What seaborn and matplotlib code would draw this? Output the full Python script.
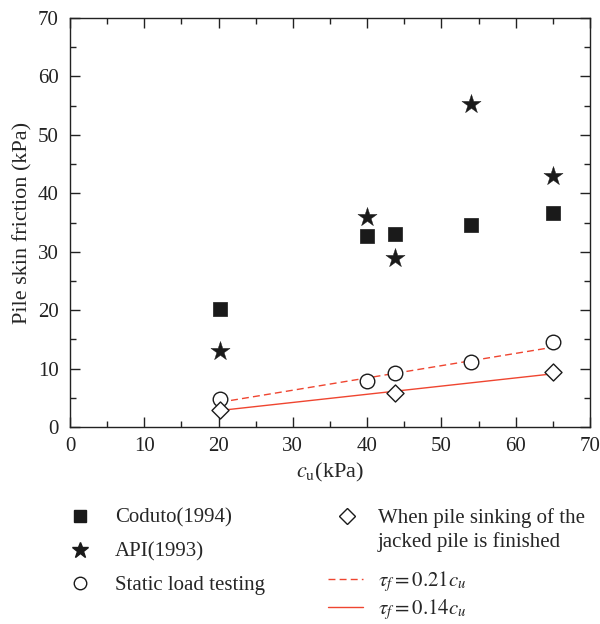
import matplotlib
matplotlib.use("Agg")
import matplotlib.pyplot as plt
import seaborn as sns
from matplotlib.lines import Line2D
from matplotlib.ticker import MultipleLocator

sns.set_style("ticks")
plt.rcParams['font.family'] = ['Liberation Serif', 'DejaVu Serif']
plt.rcParams['mathtext.fontset'] = 'stix'

cu = [20.2, 40.0, 43.8, 54.0, 65.0]
coduto = [20.2, 32.7, 33.0, 34.5, 36.7]
api = [13.0, 36.0, 29.0, 55.2, 43.0]
static = [4.8, 7.8, 9.2, 11.1, 14.6]
cu_jacked = [20.2, 43.8, 65.0]
jacked = [2.9, 5.8, 9.4]
fit_x = [20.2, 65.0]
fit_021 = [4.24, 13.65]
fit_014 = [2.83, 9.10]

black = '#1a1a1a'
red = '#ef4530'
W, H = 600, 624
FS = 15

fig = plt.figure(figsize=(6.0, 6.24), dpi=100)
ax = fig.add_axes([70/W, 1-427/H, 520/W, 409/H])

sns.lineplot(x=fit_x, y=fit_021, ax=ax, color=red, lw=1.0, linestyle=(0, (5, 3)))
sns.lineplot(x=fit_x, y=fit_014, ax=ax, color=red, lw=1.0)
sns.scatterplot(x=cu, y=coduto, ax=ax, marker='s', s=95, color=black, edgecolor=black, linewidth=0.5, zorder=3)
sns.scatterplot(x=cu, y=api, ax=ax, marker='*', s=210, color=black, edgecolor=black, linewidth=0.3, zorder=3)
sns.scatterplot(x=cu, y=static, ax=ax, marker='o', s=110, facecolor='white', edgecolor=black, linewidth=1.0, zorder=3)
sns.scatterplot(x=cu_jacked, y=jacked, ax=ax, marker='D', s=75, facecolor='white', edgecolor=black, linewidth=1.0, zorder=3)

ax.set_xlim(0, 70)
ax.set_ylim(0, 70)
ax.xaxis.set_major_locator(MultipleLocator(10))
ax.yaxis.set_major_locator(MultipleLocator(10))
ax.xaxis.set_minor_locator(MultipleLocator(5))
ax.yaxis.set_minor_locator(MultipleLocator(5))
ax.tick_params(which='both', direction='in', top=True, right=True, labelsize=FS, colors='#222222')
ax.tick_params(axis='x', which='both', pad=7)
ax.tick_params(axis='y', which='both', pad=8)
ax.tick_params(which='major', length=7, width=1)
ax.tick_params(which='minor', length=4, width=1)
for sp in ax.spines.values():
    sp.set_linewidth(1.0)
    sp.set_color('#222222')
ax.set_xlabel(r'$c_{\mathrm{u}}$(kPa)', fontsize=16, labelpad=4)
ax.set_ylabel('Pile skin friction (kPa)', fontsize=16, labelpad=4)

px = FS * 100 / 72.0  # font size in pixels


def add_entry(handle, label, x_handle_left, handle_px, text_x, y):
    fig.legend([handle], [label], loc='center left',
               bbox_to_anchor=(x_handle_left / W, 1 - y / H),
               frameon=False, fontsize=FS, borderpad=0, borderaxespad=0,
               handlelength=handle_px / px,
               handletextpad=(text_x - x_handle_left - handle_px) / px)


sq = Line2D([], [], marker='s', ls='none', color=black, markersize=8)
st = Line2D([], [], marker='*', ls='none', color=black, markersize=12)
ci = Line2D([], [], marker='o', ls='none', mfc='white', mec=black, markersize=9, mew=1.0)
di = Line2D([], [], marker='D', ls='none', mfc='white', mec=black, markersize=8.5, mew=1.0)
da = Line2D([], [], color=red, lw=1.0, linestyle=(0, (5, 3)))
so = Line2D([], [], color=red, lw=1.0)

add_entry(sq, 'Coduto(1994)', 70, 20, 115, 518)
add_entry(st, 'API(1993)', 70, 20, 115, 552)
add_entry(ci, 'Static load testing', 70, 20, 115, 585)
add_entry(di, 'When pile sinking of the', 337, 20, 378, 518)
fig.text(378 / W, 1 - 542 / H, 'jacked pile is finished', fontsize=FS, va='center', ha='left')
add_entry(da, r'$\tau_f = 0.21c_u$', 328, 35, 378, 582)
add_entry(so, r'$\tau_f = 0.14c_u$', 328, 35, 378, 610)

fig.savefig('out.png', dpi=100)
